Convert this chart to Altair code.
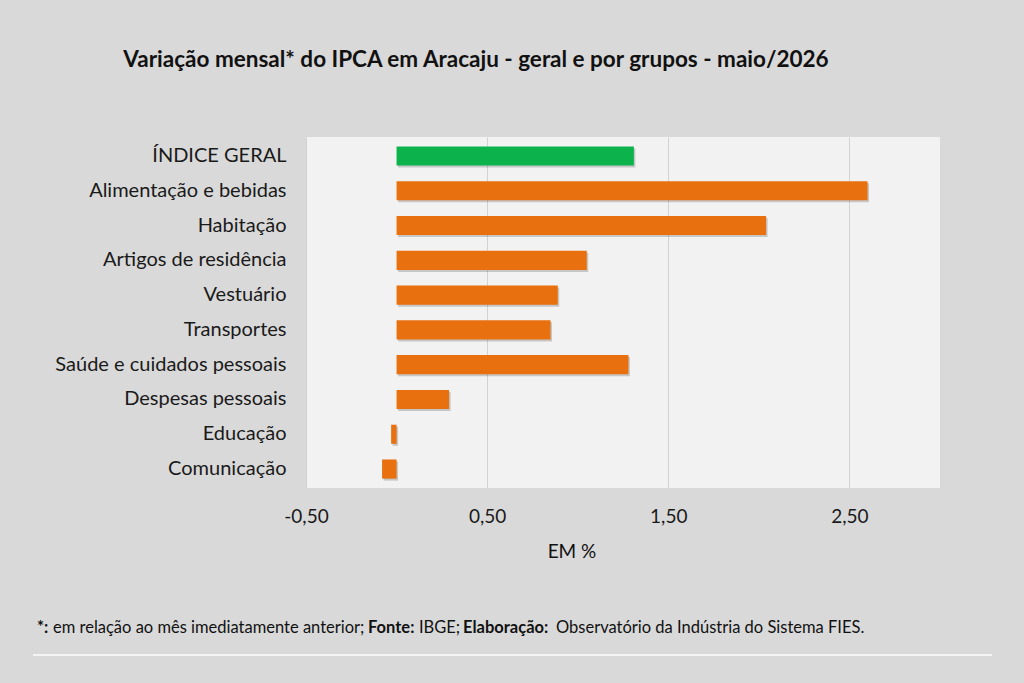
import altair as alt
import pandas as pd

# Variação mensal do IPCA em Aracaju, por grupo (%)
categorias = [
    "ÍNDICE GERAL",
    "Alimentação e bebidas",
    "Habitação",
    "Artigos de residência",
    "Vestuário",
    "Transportes",
    "Saúde e cuidados pessoais",
    "Despesas pessoais",
    "Educação",
    "Comunicação",
]
variacao = [1.31, 2.60, 2.04, 1.05, 0.89, 0.85, 1.28, 0.29, -0.03, -0.08]
tipo = ["geral"] + ["grupo"] * 9
ticks_x = [-0.5, 0.5, 1.5, 2.5]

titulo = "Variação mensal* do IPCA em Aracaju - geral e por grupos - maio/2026"
rotulo_x = "EM %"
# Nota de rodapé: (texto, negrito)
rodape = [
    ("*:", True),
    ("em relação ao mês imediatamente anterior;", False),
    ("Fonte:", True),
    ("IBGE;", False),
    ("Elaboração:", True),
    ("Observatório da Indústria do Sistema FIES.", False),
]

FONT = "Lato"
BG = "#d9d9d9"
PLOT_BG = "#f2f2f2"
ORANGE = "#e8700e"
GREEN = "#0cb24c"

# origem da área do gráfico na página
OX, OY = 306, 137
W, H = 634, 351

df = pd.DataFrame({"categoria": categorias, "valor": variacao, "tipo": tipo})

x_enc = alt.X(
    "valor:Q",
    scale=alt.Scale(domain=[-0.5, 3.0], nice=False, zero=False),
    axis=alt.Axis(
        values=ticks_x,
        labelExpr="replace(replace(format(datum.value, '.2f'), '.', ','), '\u2212', '-')",
        title=None,
        domain=False,
        ticks=False,
        grid=True,
        gridColor="#d2d2d2",
        gridWidth=1,
        labelFont=FONT,
        labelFontSize=19,
        labelColor="#1a1a1a",
        labelPadding=19,
        labelFlush=False,
    ),
)
y_enc = alt.Y(
    "categoria:N",
    sort=categorias,
    scale=alt.Scale(paddingInner=0.45, paddingOuter=0.27),
    axis=alt.Axis(
        title=None,
        domain=False,
        ticks=False,
        labelFont=FONT,
        labelFontSize=20,
        labelColor="#1a1a1a",
        labelPadding=20,
        labelLimit=400,
    ),
)

base = alt.Chart(df)

sombra = base.mark_bar(color="#000000", opacity=0.18, xOffset=1.5, yOffset=2).encode(
    x=x_enc, y=y_enc
)
barras = base.mark_bar().encode(
    x=x_enc,
    x2=alt.datum(0),
    y=y_enc,
    color=alt.Color(
        "tipo:N",
        scale=alt.Scale(domain=["geral", "grupo"], range=[GREEN, ORANGE]),
        legend=None,
    ),
)


def texto(s, x, y, size, bold=False, align="left"):
    return (
        alt.Chart(pd.DataFrame({"t": [s]}))
        .mark_text(
            font=FONT,
            fontSize=size,
            fontWeight="bold" if bold else "normal",
            color="#111111",
            align=align,
            baseline="middle",
        )
        .encode(text="t:N", x=alt.value(x - OX), y=alt.value(y - OY))
    )


camadas = [sombra, barras]
camadas.append(texto(titulo, 476, 60, 22.5, bold=True, align="center"))
camadas.append(texto(rotulo_x, 572, 552, 19, align="center"))

# posições de cada trecho do rodapé
pos_rodape = [37, 53, 368, 419, 463, 556]
for (s, b), px in zip(rodape, pos_rodape):
    camadas.append(texto(s, px, 628, 16.5, bold=b))

linha = (
    alt.Chart(pd.DataFrame({"a": [0]}))
    .mark_rule(color="#f4f4f4", strokeWidth=2)
    .encode(
        x=alt.value(33 - OX),
        x2=alt.value(992 - OX),
        y=alt.value(655 - OY),
    )
)
camadas.append(linha)

chart = (
    alt.layer(*camadas)
    .properties(
        width=W,
        height=H,
        background=BG,
        padding={"left": OX, "top": OY, "right": 1024 - OX - W, "bottom": 683 - OY - H},
        autosize=alt.AutoSizeParams(type="none"),
    )
    .configure_view(fill=PLOT_BG, stroke=None)
)

chart.save("out.html", embed_options={"renderer": "svg", "actions": False})
